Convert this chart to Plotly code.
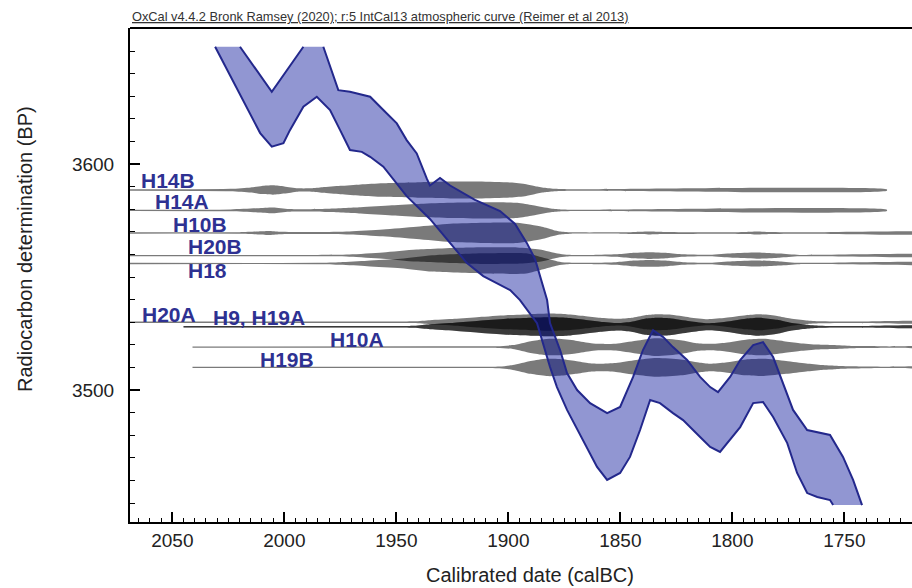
import plotly.graph_objects as go

# ---------------------------------------------------------------
# IntCal13 calibration band (1-sigma envelope), calendar years BC
# ---------------------------------------------------------------
CURVE_UPPER_YEAR = [2019.8, 2005.6, 1991.5, 1982.6, 1975.9, 1970.7, 1961.7, 1955.8,
                    1949.8, 1945.4, 1940.9, 1936.4, 1935.0, 1930.5, 1926.0, 1914.9,
                    1903.7, 1897.0, 1891.7, 1888.1, 1885.4, 1882.7, 1881.4, 1876.9,
                    1873.8, 1869.3, 1863.5, 1855.9, 1850.1, 1844.3, 1839.9, 1835.4,
                    1830.9, 1826.5, 1820.2, 1814.4, 1809.9, 1806.4, 1801.0, 1796.5,
                    1790.7, 1786.3, 1781.8, 1777.4, 1772.9, 1766.6, 1760.8, 1756.4,
                    1750.6, 1746.1, 1742.1]
CURVE_UPPER_BP = [3651.9, 3632.0, 3651.9, 3651.9, 3632.7, 3632.0, 3629.8, 3623.9,
                  3618.0, 3610.6, 3604.7, 3593.5, 3590.5, 3593.8, 3590.5, 3584.1,
                  3579.2, 3573.5, 3565.0, 3558.0, 3548.7, 3539.8, 3529.6, 3517.7,
                  3507.5, 3500.0, 3494.2, 3489.8, 3492.5, 3505.8, 3517.7, 3526.5,
                  3523.5, 3519.0, 3513.3, 3505.8, 3501.3, 3499.1, 3505.8, 3513.3,
                  3519.9, 3521.2, 3514.6, 3503.1, 3491.2, 3482.3, 3481.0, 3480.1,
                  3470.4, 3460.2, 3449.1]
CURVE_LOWER_YEAR = [2030.9, 2015.3, 2010.8, 2005.6, 2000.4, 1997.5, 1991.5, 1985.5,
                    1979.6, 1975.1, 1970.7, 1965.4, 1961.7, 1955.8, 1949.8, 1945.4,
                    1935.0, 1926.0, 1918.6, 1911.2, 1899.2, 1894.8, 1887.2, 1881.4,
                    1878.3, 1873.8, 1866.7, 1860.4, 1855.9, 1850.1, 1845.7, 1841.2,
                    1836.7, 1832.3, 1826.5, 1822.0, 1814.4, 1809.9, 1805.5, 1801.0,
                    1796.5, 1790.7, 1786.3, 1781.8, 1775.5, 1771.1, 1766.6, 1762.1,
                    1756.4, 1755.0]
CURVE_LOWER_BP = [3651.9, 3622.4, 3613.7, 3607.7, 3609.2, 3615.0, 3625.4, 3629.8,
                  3623.9, 3615.0, 3606.2, 3605.4, 3603.2, 3598.8, 3591.5, 3585.8,
                  3575.7, 3565.2, 3556.3, 3550.4, 3544.2, 3539.8, 3529.6, 3510.2,
                  3501.3, 3491.2, 3477.9, 3466.0, 3460.2, 3463.3, 3470.4, 3482.3,
                  3495.6, 3494.2, 3489.8, 3486.7, 3479.2, 3474.8, 3472.6, 3477.9,
                  3483.6, 3494.2, 3494.7, 3488.1, 3476.5, 3463.3, 3454.4, 3452.7,
                  3451.3, 3449.1]

# ---------------------------------------------------------------
# Samples: radiocarbon age (BP) and calibrated probability profiles
# ---------------------------------------------------------------
SAMPLES = ["H14B", "H14A", "H10B", "H20B", "H18", "H20A", "H9", "H19A", "H10A", "H19B"]
BP_AGE = [3588.5, 3579.5, 3569.5, 3559.5, 3556.0, 3530.0, 3528.0, 3528.0, 3519.0, 3510.0]

H14B_YEAR = [2075, 2024, 2015, 2010, 2005, 2000, 1994, 1988, 1983, 1975, 1966, 1956,
             1939, 1926, 1913, 1899, 1892, 1888, 1884, 1879, 1872, 1731]
H14B_PROB = [0, 0.05, 0.19, 0.34, 0.4, 0.29, 0.1, 0.1, 0.2, 0.35, 0.5, 0.62,
             0.72, 0.78, 0.78, 0.68, 0.52, 0.32, 0.16, 0.05, 0, 0]

H14A_YEAR = [2075, 2024, 2012, 2005, 1998, 1990, 1981, 1966, 1952, 1939, 1926, 1910,
             1896, 1889, 1881, 1876, 1868, 1731]
H14A_PROB = [0, 0.03, 0.14, 0.22, 0.07, 0.05, 0.1, 0.25, 0.44, 0.6, 0.7, 0.75,
             0.7, 0.45, 0.13, 0.03, 0, 0]

H10B_YEAR = [2075, 2020, 2012, 2007, 2002, 1985, 1971, 1956, 1941, 1926, 1911, 1896,
             1885, 1880, 1877, 1872, 1850, 1843, 1837, 1831, 1800, 1795, 1789, 1783,
             1770, 1700]
H10B_PROB = [0, 0.01, 0.08, 0.13, 0.05, 0.03, 0.08, 0.27, 0.55, 0.85, 0.95, 0.95,
             0.55, 0.24, 0.08, 0, 0, 0.04, 0.08, 0.04, 0, 0.03, 0.08, 0.03,
             0, 0]

H20B_YEAR = [2075, 1985, 1971, 1956, 1941, 1918, 1896, 1886, 1878, 1874, 1862, 1852,
             1845, 1837, 1829, 1822, 1810, 1800, 1789, 1779, 1770, 1700]
H20B_PROB = [0, 0, 0.04, 0.24, 0.54, 0.75, 0.75, 0.55, 0.14, 0.02, 0, 0.06,
             0.2, 0.27, 0.2, 0.06, 0.01, 0.16, 0.24, 0.14, 0, 0]

H18_YEAR = [2075, 1985, 1975, 1963, 1948, 1934, 1911, 1892, 1885, 1878, 1874, 1862,
            1852, 1845, 1837, 1829, 1822, 1810, 1800, 1789, 1779, 1770, 1700]
H18_PROB = [0, 0, 0.06, 0.2, 0.4, 0.75, 0.95, 0.95, 0.55, 0.14, 0.02, 0,
            0.06, 0.2, 0.27, 0.2, 0.06, 0.01, 0.16, 0.24, 0.14, 0, 0]

H20A_YEAR = [2075, 1960, 1942, 1935, 1924, 1913, 1901, 1890, 1881, 1874, 1866, 1859,
             1851, 1845, 1839, 1834, 1828, 1819, 1811, 1803, 1794, 1788, 1780, 1774,
             1767, 1761, 1747, 1700]
H20A_PROB = [0, 0, 0.02, 0.14, 0.28, 0.46, 0.64, 0.74, 0.8, 0.74, 0.56, 0.38,
             0.27, 0.38, 0.64, 0.74, 0.7, 0.42, 0.24, 0.38, 0.64, 0.74, 0.56, 0.3,
             0.11, 0.03, 0, 0]

H9_YEAR = [2045, 1960, 1942, 1935, 1924, 1913, 1901, 1890, 1881, 1874, 1866, 1859,
           1851, 1845, 1839, 1834, 1828, 1819, 1811, 1803, 1794, 1788, 1780, 1774,
           1767, 1761, 1747, 1700]
H9_PROB = [0, 0, 0.03, 0.18, 0.33, 0.53, 0.73, 0.83, 0.88, 0.83, 0.63, 0.43,
           0.3, 0.43, 0.73, 0.83, 0.78, 0.48, 0.28, 0.43, 0.73, 0.83, 0.63, 0.33,
           0.13, 0.03, 0, 0]

H19A_YEAR = list(H9_YEAR)
H19A_PROB = list(H9_PROB)

H10A_YEAR = [2041, 1935, 1905, 1898, 1890, 1884, 1878, 1870, 1863, 1859, 1852, 1843,
             1834, 1823, 1816, 1810, 1803, 1794, 1786, 1777, 1770, 1762, 1755, 1747,
             1740, 1730, 1700]
H10A_PROB = [0, 0.01, 0.02, 0.13, 0.53, 0.73, 0.76, 0.58, 0.33, 0.26, 0.28, 0.58,
             0.83, 0.63, 0.33, 0.26, 0.38, 0.68, 0.76, 0.53, 0.33, 0.18, 0.13, 0.05,
             0.03, 0, 0]

H19B_YEAR = [2041, 1935, 1904, 1898, 1890, 1883, 1877, 1870, 1864, 1859, 1852, 1843,
             1834, 1823, 1815, 1810, 1803, 1794, 1786, 1776, 1767, 1760, 1754, 1747,
             1740, 1730, 1700]
H19B_PROB = [0, 0, 0.02, 0.18, 0.58, 0.8, 0.78, 0.58, 0.36, 0.31, 0.38, 0.68,
             0.88, 0.73, 0.43, 0.31, 0.43, 0.73, 0.8, 0.58, 0.33, 0.18, 0.11, 0.05,
             0.02, 0, 0]

PROFILES = {
    "H14B": (H14B_YEAR, H14B_PROB), "H14A": (H14A_YEAR, H14A_PROB),
    "H10B": (H10B_YEAR, H10B_PROB), "H20B": (H20B_YEAR, H20B_PROB),
    "H18": (H18_YEAR, H18_PROB), "H20A": (H20A_YEAR, H20A_PROB),
    "H9": (H9_YEAR, H9_PROB), "H19A": (H19A_YEAR, H19A_PROB),
    "H10A": (H10A_YEAR, H10A_PROB), "H19B": (H19B_YEAR, H19B_PROB),
}

# label text -> anchor (calendar year of left edge, BP of text centre)
LABELS = [
    ("H14B", 2064.5, 3592.5), ("H14A", 2058.2, 3583.4), ("H10B", 2050.2, 3573.4),
    ("H20B", 2043.5, 3563.5), ("H18", 2043.5, 3552.9), ("H20A", 2064.0, 3533.6),
    ("H9, H19A", 2032.3, 3532.1), ("H10A", 1980.1, 3522.3), ("H19B", 2011.4, 3513.7),
]

X_RANGE = [2068.9, 1719.8]
Y_RANGE = [3441.6, 3660.2]

LINE_HALF = 0.3      # BP half-thickness of each sample's base line
PROB_SCALE = 4.4     # BP half-thickness at relative probability 1
FONT = "Liberation Sans, Arial, sans-serif"
LABEL_BLUE = "#2e3192"

fig = go.Figure()

# probability distributions drawn as symmetric ribbons about each sample's age
for name, bp in zip(SAMPLES, BP_AGE):
    years, prob = PROFILES[name]
    top = [bp + LINE_HALF + p * PROB_SCALE for p in prob]
    bot = [bp - LINE_HALF - p * PROB_SCALE for p in prob]
    fig.add_trace(go.Scatter(
        x=list(years) + list(years)[::-1],
        y=top + bot[::-1],
        mode="lines", fill="toself",
        fillcolor="rgba(0,0,0,0.52)",
        line=dict(width=0, shape="spline", smoothing=0.6),
        hoverinfo="skip", showlegend=False,
    ))

# calibration band
fig.add_trace(go.Scatter(
    x=CURVE_UPPER_YEAR + CURVE_LOWER_YEAR[::-1],
    y=CURVE_UPPER_BP + CURVE_LOWER_BP[::-1],
    mode="lines", fill="toself",
    fillcolor="rgba(0,12,150,0.43)",
    line=dict(width=0),
    hoverinfo="skip", showlegend=False,
))

# band outline (the clipped top and bottom are left open)
cut = 3  # upper edge leaves the plotted range between the 3rd and 4th points
outline_x = CURVE_UPPER_YEAR[:cut] + [None] + CURVE_UPPER_YEAR[cut:]
outline_y = CURVE_UPPER_BP[:cut] + [None] + CURVE_UPPER_BP[cut:]
for xs, ys in [(outline_x, outline_y), (CURVE_LOWER_YEAR, CURVE_LOWER_BP)]:
    fig.add_trace(go.Scatter(
        x=xs, y=ys, mode="lines",
        line=dict(color="rgb(35,40,140)", width=2),
        connectgaps=False, hoverinfo="skip", showlegend=False,
    ))

annotations = []
for text, yr, bp in LABELS:
    annotations.append(dict(
        x=yr, y=bp, xref="x", yref="y", text=f"<b>{text}</b>",
        showarrow=False, xanchor="left", yanchor="middle", borderpad=0,
        font=dict(family=FONT, size=21, color=LABEL_BLUE),
    ))

annotations += [
    dict(text="<u>OxCal v4.4.2 Bronk Ramsey (2020); r:5 IntCal13 atmospheric curve (Reimer et al 2013)</u>",
         xref="paper", yref="paper", x=0, y=1.0223, xanchor="left", yanchor="middle",
         showarrow=False, font=dict(family=FONT, size=12.8, color="#333333")),
    dict(text="Radiocarbon determination (BP)", textangle=-90,
         xref="paper", yref="paper", x=-0.1343, y=0.5526, xanchor="center", yanchor="middle",
         showarrow=False, font=dict(family=FONT, size=20, color="#222222")),
    dict(text="Calibrated date (calBC)",
         xref="paper", yref="paper", x=0.5115, y=-0.1073, xanchor="center", yanchor="middle",
         showarrow=False, font=dict(family=FONT, size=20, color="#222222")),
]

fig.update_layout(
    width=912, height=588,
    margin=dict(l=130, r=0, t=28, b=66),
    paper_bgcolor="white", plot_bgcolor="white",
    showlegend=False,
    annotations=annotations,
    shapes=[dict(type="line", xref="paper", yref="paper", x0=0, x1=1, y0=1, y1=1,
                 line=dict(color="black", width=2))],
    xaxis=dict(
        range=X_RANGE, showgrid=False, zeroline=False,
        showline=True, linecolor="black", linewidth=2,
        ticks="inside", ticklen=10, tickwidth=1.5, tickcolor="black",
        tick0=0, dtick=50, ticklabelstandoff=0,
        tickfont=dict(family=FONT, size=19, color="#222222"),
        minor=dict(ticks="inside", dtick=5, ticklen=4, tickwidth=1, tickcolor="black",
                   showgrid=False),
    ),
    yaxis=dict(
        range=Y_RANGE, showgrid=False, zeroline=False,
        showline=True, linecolor="black", linewidth=2,
        ticks="inside", ticklen=10, tickwidth=1.5, tickcolor="black",
        tick0=0, dtick=100, ticklabelstandoff=10,
        tickfont=dict(family=FONT, size=19, color="#222222"),
        minor=dict(ticks="inside", dtick=10, ticklen=5, tickwidth=1, tickcolor="black",
                   showgrid=False),
    ),
)

fig.write_html("out.html")
